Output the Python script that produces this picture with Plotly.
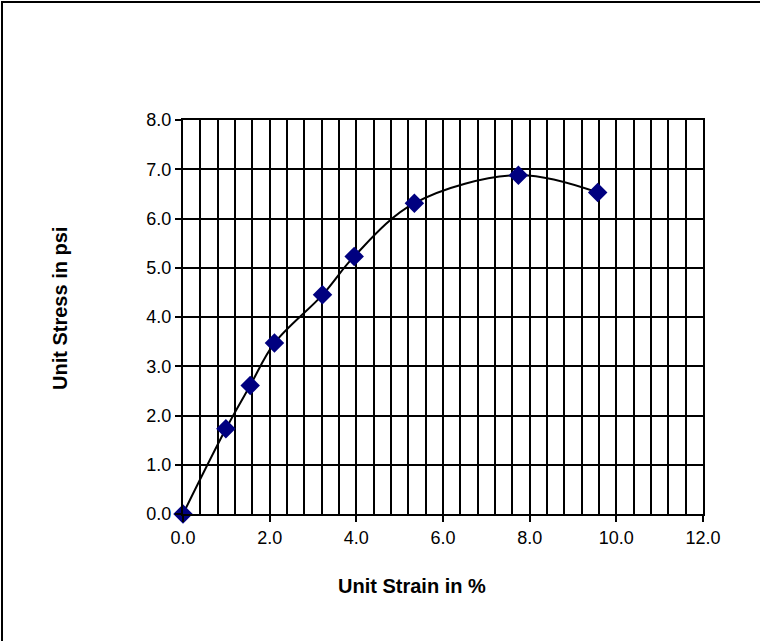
import plotly.graph_objects as go

# Data
strain = [0.0, 0.99, 1.55, 2.11, 3.22, 3.95, 5.34, 7.74, 9.57]
stress = [0.0, 1.73, 2.61, 3.47, 4.45, 5.23, 6.31, 6.88, 6.53]

x_title = "Unit Strain in %"
y_title = "Unit Stress in psi"

W, H = 765, 641
L, R, T, B = 183, 62, 120, 127
pw, ph = W - L - R, H - T - B

def px_to_paper_x(px):
    return (px - L) / pw

def px_to_paper_y(py):
    return (H - B - py) / ph

fig = go.Figure()
fig.add_trace(go.Scatter(
    x=strain, y=stress, mode="lines+markers",
    line=dict(color="black", width=2, shape="spline", smoothing=1.0),
    marker=dict(symbol="diamond", size=15, color="#000080",
                line=dict(width=0)),
    showlegend=False, hoverinfo="x+y", cliponaxis=False,
))

font_family = "Liberation Sans, Arial, sans-serif"

fig.update_layout(
    width=W, height=H,
    margin=dict(l=L, r=R, t=T, b=B, pad=0),
    paper_bgcolor="white", plot_bgcolor="white",
    font=dict(family=font_family, color="black", size=18),
    xaxis=dict(
        range=[0, 12], dtick=2, tick0=0, tickformat=".1f",
        showgrid=True, gridcolor="black", gridwidth=2,
        minor=dict(dtick=0.4, tick0=0, showgrid=True, gridcolor="black",
                   gridwidth=2, ticks=""),
        showline=True, linecolor="black", linewidth=2, mirror=True,
        ticks="outside", ticklen=6, tickwidth=2, tickcolor="black",
        zeroline=False, tickfont=dict(size=18),
    ),
    yaxis=dict(
        range=[0, 8], dtick=1, tick0=0, tickformat=".1f",
        showgrid=True, gridcolor="black", gridwidth=2,
        showline=True, linecolor="black", linewidth=2, mirror=True,
        ticks="outside", ticklen=6, tickwidth=2, tickcolor="black",
        zeroline=False, tickfont=dict(size=18),
    ),
    annotations=[
        dict(text="<b>%s</b>" % x_title, xref="paper", yref="paper",
             x=px_to_paper_x(412), y=px_to_paper_y(586),
             xanchor="center", yanchor="middle", showarrow=False,
             font=dict(size=20, family=font_family)),
        dict(text="<b>%s</b>" % y_title, xref="paper", yref="paper",
             x=px_to_paper_x(60), y=px_to_paper_y(309), textangle=-90,
             xanchor="center", yanchor="middle", showarrow=False,
             font=dict(size=20, family=font_family)),
    ],
    shapes=[
        dict(type="line", xref="paper", yref="paper",
             x0=px_to_paper_x(2), x1=px_to_paper_x(2),
             y0=px_to_paper_y(641), y1=px_to_paper_y(1),
             line=dict(color="black", width=2), layer="below"),
        dict(type="line", xref="paper", yref="paper",
             x0=px_to_paper_x(1), x1=px_to_paper_x(760),
             y0=px_to_paper_y(2), y1=px_to_paper_y(2),
             line=dict(color="black", width=2), layer="below"),
    ],
)

fig.write_html(
    "out.html",
    config={"displayModeBar": False},
    post_script="document.body.style.margin='0';document.body.style.overflow='hidden';",
)
